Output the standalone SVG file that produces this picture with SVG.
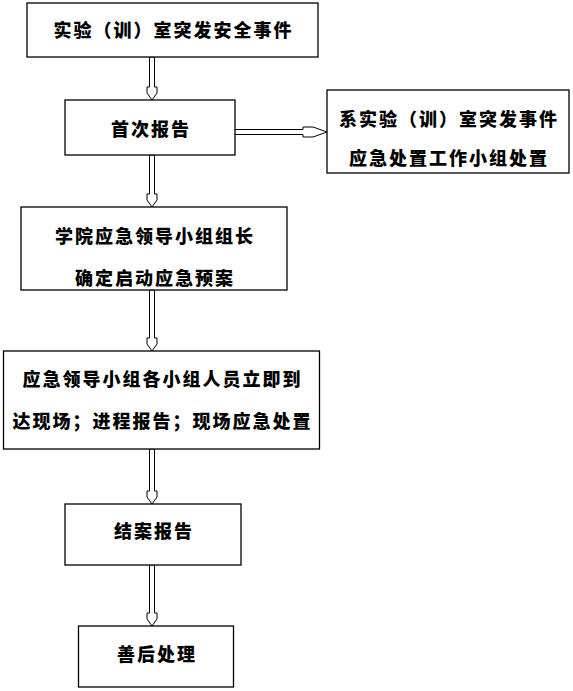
<svg xmlns="http://www.w3.org/2000/svg" width="573" height="691" viewBox="0 0 573 691">
<style>
.box{fill:#fff;stroke:#000;stroke-width:1.3}
.arr{fill:#fff;stroke:#000;stroke-width:1}
text{font-family:"Noto Sans CJK SC","Noto Sans CJK TC",sans-serif;font-weight:900;font-size:18px;letter-spacing:2px;fill:#000;text-anchor:middle;dominant-baseline:central}
</style>
<rect width="573" height="691" fill="#fff"/>
<g id="connectors">
<polygon class="arr" points="149.5,57 154.5,57 154.5,87 157,87 157,93 152,100 147,93 147,87 149.5,87"/>
<polygon class="arr" points="149.5,155 154.5,155 154.5,194 157,194 157,200 152,207 147,200 147,194 149.5,194"/>
<polygon class="arr" points="149.5,290 154.5,290 154.5,338 157,338 157,344 152,351 147,344 147,338 149.5,338"/>
<polygon class="arr" points="149.5,449 154.5,449 154.5,491 157,491 157,497 152,504 147,497 147,491 149.5,491"/>
<polygon class="arr" points="149.5,565 154.5,565 154.5,613 157,613 157,619 152,626 147,619 147,613 149.5,613"/>
<polygon class="arr" points="232,129.5 303,129.5 303,127 313,127 327,132 313,137 303,137 303,134.5 232,134.5"/>
</g>
<g id="n1"><rect class="box" x="27" y="3" width="291" height="54"/><text x="173.5" y="29">实验（训）室突发安全事件</text></g>
<g id="n2"><rect class="box" x="65" y="100" width="170" height="55"/><text x="151" y="128">首次报告</text></g>
<g id="n3"><rect class="box" x="327" y="90" width="242" height="83"/><text x="449" y="118">系实验（训）室突发事件</text><text x="449" y="157">应急处置工作小组处置</text></g>
<g id="n4"><rect class="box" x="21" y="207" width="266" height="83"/><text x="155" y="235">学院应急领导小组组长</text><text x="155" y="277">确定启动应急预案</text></g>
<g id="n5"><rect class="box" x="3.5" y="351" width="316" height="98"/><text x="162.5" y="378">应急领导小组各小组人员立即到</text><text x="162.5" y="420">达现场；进程报告；现场应急处置</text></g>
<g id="n6"><rect class="box" x="65" y="504" width="176" height="61"/><text x="154" y="530">结案报告</text></g>
<g id="n7"><rect class="box" x="78.5" y="626" width="155" height="61"/><text x="157" y="653">善后处理</text></g>
</svg>
